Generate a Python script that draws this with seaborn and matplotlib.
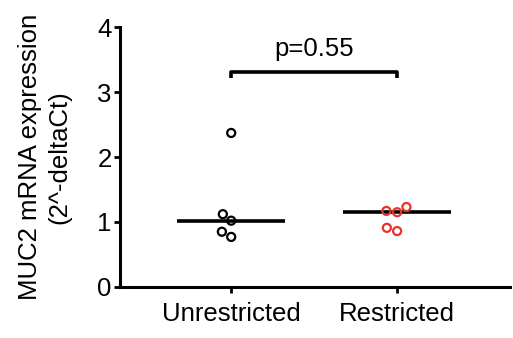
import seaborn as sns
import matplotlib.pyplot as plt
import pandas as pd

# values
groups = ['Unrestricted', 'Restricted']
unrestricted = [2.37, 1.12, 1.02, 0.85, 0.77]
restricted = [1.23, 1.17, 1.15, 0.91, 0.86]
p_text = 'p=0.55'
colors = {'Unrestricted': 'black', 'Restricted': '#e5352a'}

data = pd.DataFrame({
    'group': ['Unrestricted'] * len(unrestricted) + ['Restricted'] * len(restricted),
    'value': unrestricted + restricted,
})

sns.set_style('ticks')
plt.rcParams['font.family'] = ['Liberation Sans', 'DejaVu Sans']
plt.rcParams.update({'text.color': 'black', 'axes.labelcolor': 'black',
                     'xtick.color': 'black', 'ytick.color': 'black',
                     'axes.edgecolor': 'black'})
fs = 18.5

fig = plt.figure(figsize=(5.13, 3.38), dpi=100)
ax = fig.add_axes([0.234, 0.151, 0.76, 0.769])

# median lines
sns.boxplot(data=data, x='group', y='value', order=groups, ax=ax,
            showbox=False, showcaps=False, showfliers=False,
            whiskerprops={'visible': False},
            medianprops={'color': 'black', 'linewidth': 2.6},
            width=0.65)

# open circles
sns.swarmplot(data=data, x='group', y='value', order=groups, hue='group',
              palette=colors, legend=False, size=5.8, ax=ax)
for coll in ax.collections:
    fc = coll.get_facecolors()
    coll.set_edgecolors(fc)
    coll.set_facecolors('none')
    coll.set_linewidths(1.6)

# significance bracket
y_br = 3.31
ax.plot([0, 0, 1, 1], [y_br - 0.1, y_br, y_br, y_br - 0.1], color='black',
        linewidth=2.6, solid_capstyle='butt')
ax.text(0.5, y_br + 0.17, p_text, ha='center', va='bottom', fontsize=fs)

ax.set_ylim(0, 4)
ax.set_xlim(-0.67, 1.68)
ax.set_yticks([0, 1, 2, 3, 4])
ax.set_xlabel('')
ax.set_ylabel('MUC2 mRNA expression\n(2^-deltaCt)', fontsize=fs, labelpad=19,
              linespacing=1.25)
ax.tick_params(axis='y', labelsize=fs, length=4, width=2, pad=2)
ax.tick_params(axis='x', labelsize=fs, length=4, width=2, pad=7)
for side in ['top', 'right']:
    ax.spines[side].set_visible(False)
for side in ['left', 'bottom']:
    ax.spines[side].set_linewidth(2.2)

plt.savefig('out.png', dpi=100)
